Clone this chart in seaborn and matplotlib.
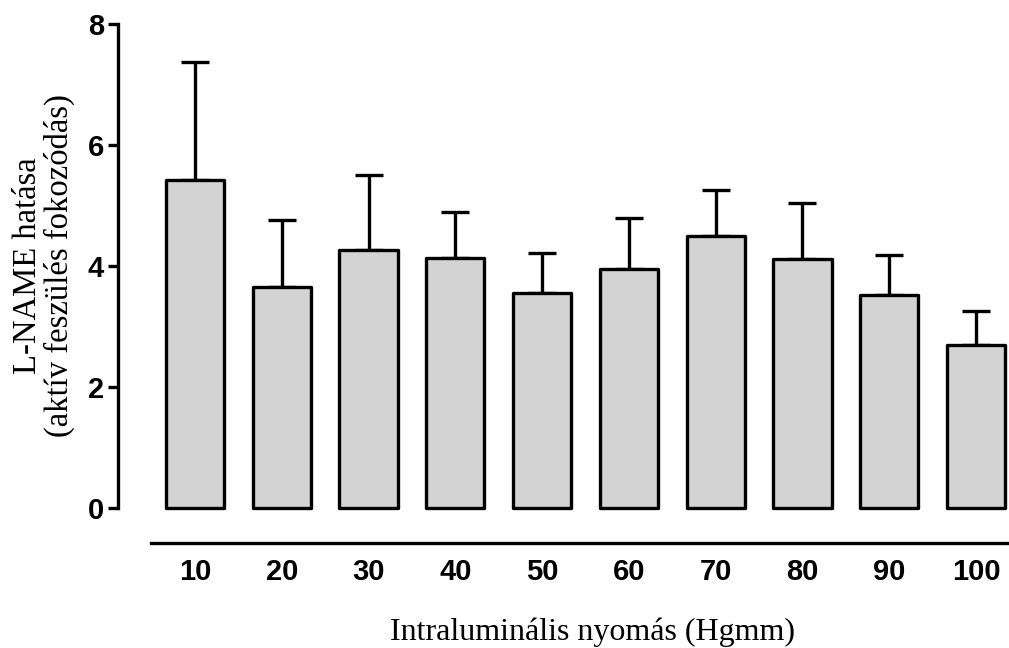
import matplotlib
matplotlib.use("Agg")
import matplotlib.pyplot as plt
import seaborn as sns
import pandas as pd
import numpy as np

# Intraluminal pressure steps and L-NAME effect (mean + SEM)
pressures = ["10", "20", "30", "40", "50", "60", "70", "80", "90", "100"]
means = [5.43, 3.65, 4.26, 4.13, 3.56, 3.95, 4.50, 4.11, 3.52, 2.69]
sem = [1.95, 1.11, 1.24, 0.77, 0.66, 0.85, 0.75, 0.93, 0.67, 0.57]

df = pd.DataFrame({"pressure": pressures, "effect": means})

sns.set_theme(style="white")
plt.rcParams["font.family"] = ["Liberation Sans", "DejaVu Sans"]
plt.rcParams["text.color"] = "black"

W, H = 1009, 648
fig = plt.figure(figsize=(W / 100, H / 100), dpi=100)
# axes box in pixel terms: left spine at x=118, top (y=8) at 24, bottom line at 543
left_px, right_px, top_px, bot_px = 118, 1009, 24, 543
ax = fig.add_axes([left_px / W, 1 - bot_px / H, (right_px - left_px) / W, (bot_px - top_px) / H])

lw = 2.4
sns.barplot(data=df, x="pressure", y="effect", color="#d3d3d3", saturation=1,
            width=0.67, edgecolor="black", linewidth=lw, errorbar=None, ax=ax)
for p in ax.patches:
    p.set_joinstyle("round")
    p.set_zorder(3)

xs = np.arange(len(pressures))
ax.errorbar(xs, means, yerr=[np.zeros(len(sem)), sem], fmt="none",
            ecolor="black", elinewidth=lw, capsize=10, capthick=lw, zorder=2)

ax.set_xlim(-0.887, 9.38)
ax.set_ylim(-0.573, 8)
ax.set_yticks([0, 2, 4, 6, 8])
ax.set_yticklabels(["0", "2", "4", "6", "8"])

for s in ["top", "right"]:
    ax.spines[s].set_visible(False)
ax.spines["left"].set_bounds(0, 8)
ax.spines["bottom"].set_bounds(-0.51, 9.38)
for s in ["left", "bottom"]:
    ax.spines[s].set_linewidth(lw)
    ax.spines[s].set_color("black")

ax.tick_params(axis="y", left=True, length=7, width=lw, pad=3, labelsize=21, colors="black")
ax.tick_params(axis="x", bottom=False, length=0, pad=11, labelsize=21, colors="black")
for lab in ax.get_xticklabels() + ax.get_yticklabels():
    lab.set_fontweight("bold")

ax.set_xlabel("")
ax.set_ylabel("")

serif = ["Liberation Serif", "DejaVu Serif"]
fig.text(44 / W, 1 - 266 / H, "L-NAME hatása\n(aktív feszülés fokozódás)",
         rotation=90, ha="center", va="center", multialignment="center",
         fontsize=23.5, family=serif, linespacing=1.05, color="black")
fig.text(593 / W, 1 - 632 / H, "Intraluminális nyomás (Hgmm)",
         ha="center", va="center", fontsize=23, family=serif, color="black")

fig.savefig("out.png", dpi=100)
